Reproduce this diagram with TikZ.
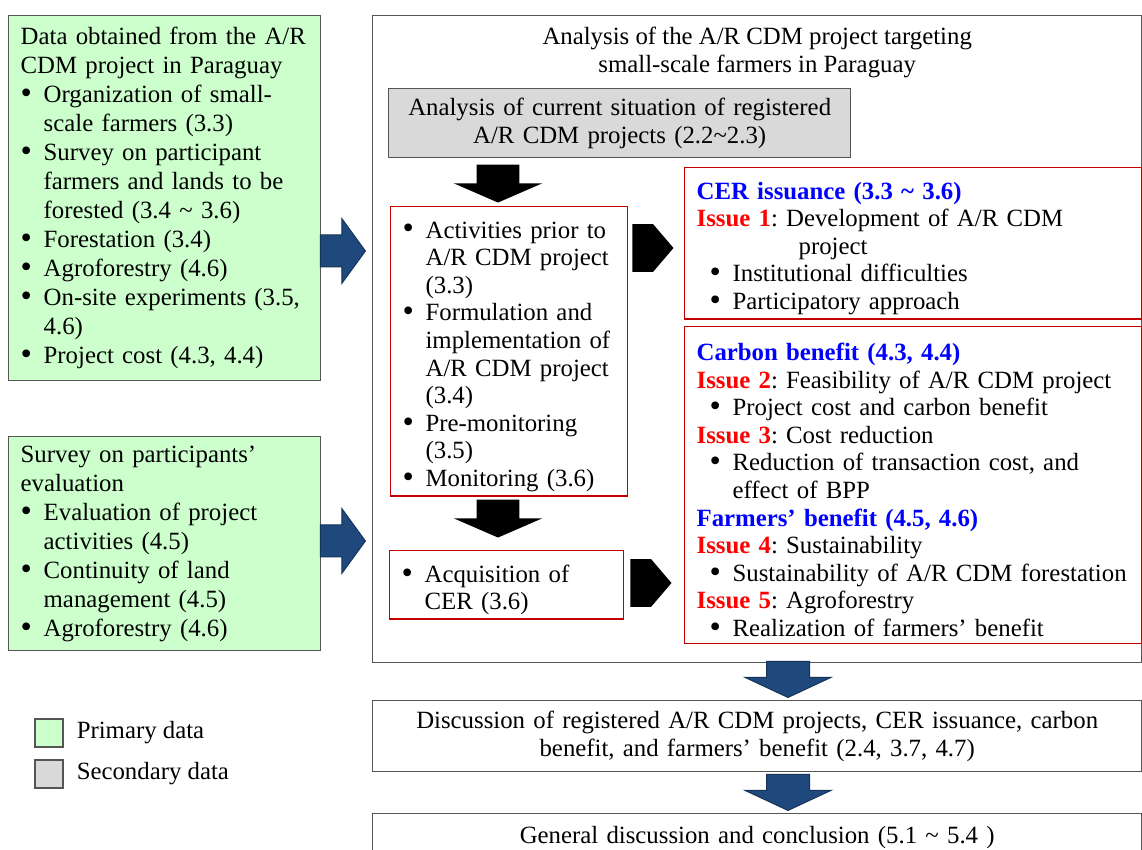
\documentclass[tikz,border=0pt]{standalone}
\usepackage{fontspec}
\setmainfont{Liberation Serif}
\usepackage{xcolor}
\usetikzlibrary{shapes,arrows,positioning,calc}

\definecolor{primgreen}{RGB}{204,255,204}
\definecolor{secgray}{RGB}{217,217,217}
\definecolor{framegray}{RGB}{85,85,85}
\definecolor{boxred}{RGB}{192,0,0}
\definecolor{headblue}{RGB}{0,0,255}
\definecolor{issuered}{RGB}{255,0,0}
\definecolor{arrblue}{RGB}{31,73,125}

% bullet line with hanging indent, optional left offset
\newcommand{\bitem}[2][0pt]{\par\noindent\hangindent=\dimexpr#1+11.5pt\relax\hangafter=1\hspace*{#1}\makebox[11.5pt][l]{\raisebox{-0.4pt}{\scalebox{1.3}{\textbullet}}}#2\par}
\newcommand{\issue}[1]{\par\noindent{\bfseries\color{issuered}Issue #1}}
\newcommand{\topic}[1]{\par\noindent{\bfseries\color{headblue}#1}}

\begin{document}
\begin{tikzpicture}[
    x=0.5pt, y=-0.5pt,
    every node/.style={font=\fontsize{12.4}{13.8}\selectfont\frenchspacing},
    loose/.style={font=\fontsize{12.4}{14.5}\selectfont\frenchspacing},
    panel/.style={rectangle, draw, anchor=north west, align=left, inner xsep=6pt, inner ysep=2pt},
    primary/.style={panel, loose, draw=framegray, fill=primgreen, line width=0.7pt},
    secondary/.style={panel, draw=framegray, fill=secgray, line width=0.7pt, align=center},
    frame/.style={rectangle, draw=framegray, anchor=north west, line width=0.7pt, align=center},
    redbox/.style={panel, draw=boxred, line width=0.6pt},
    keybox/.style={rectangle, draw=framegray, line width=0.7pt, minimum size=14pt, inner sep=0pt},
    blueright/.style={single arrow, anchor=tip, fill=arrblue, draw=arrblue!70!black, line width=0.5pt,
        inner xsep=0pt, inner ysep=7.75pt, minimum height=22.5pt, single arrow head extend=8.25pt, single arrow tip angle=108},
    bluedown/.style={single arrow, rotate=-90, anchor=tip, fill=arrblue, draw=arrblue!70!black, line width=0.5pt,
        inner xsep=0pt, inner ysep=10.5pt, minimum height=18pt, single arrow head extend=10.75pt, single arrow tip angle=130},
    blackdown/.style={single arrow, rotate=-90, anchor=tip, fill=black,
        inner xsep=0pt, inner ysep=10.5pt, minimum height=19pt, single arrow head extend=11.25pt, single arrow tip angle=133},
    blackright/.style={single arrow, anchor=tip, fill=black,
        inner xsep=0pt, inner ysep=11.75pt, minimum height=20.5pt, single arrow head extend=0pt, single arrow tip angle=99}
]
\useasboundingbox (0,0) rectangle (1142,850);

% primary data
\node[primary, text width=144pt, minimum height=182.5pt] (projdata) at (8,15) {Data obtained from the A/R\\CDM project in Paraguay
    \bitem{Organization of small-\newline scale farmers (3.3)}
    \bitem{Survey on participant\newline farmers and lands to be\newline forested (3.4 \textasciitilde\ 3.6)}
    \bitem{Forestation (3.4)}
    \bitem{Agroforestry (4.6)}
    \bitem{On-site experiments (3.5,\newline 4.6)}
    \bitem{Project cost (4.3, 4.4)}};
\node[primary, text width=144pt, minimum height=107pt] (evaldata) at (8,436) {Survey on participants'\\evaluation
    \bitem{Evaluation of project\newline activities (4.5)}
    \bitem{Continuity of land\newline management (4.5)}
    \bitem{Agroforestry (4.6)}};

% analysis frame
\node[frame, minimum width=384.5pt, minimum height=323.5pt] (analysis) at (372,15) {};
\node[below=6pt of analysis.north, inner sep=0pt, align=center] (aim) {Analysis of the A/R CDM project targeting\\small-scale farmers in Paraguay};
\node[secondary, text width=219pt, minimum height=34.5pt] (current) at (388,88) {Analysis of current situation of registered\\A/R CDM projects (2.2\textasciitilde2.3)};

\node[redbox, text width=106.5pt, minimum height=144pt] (steps) at (390,206) {%
    \bitem{Activities prior to\newline A/R CDM project\newline (3.3)}
    \bitem{Formulation and\newline implementation of\newline A/R CDM project\newline (3.4)}
    \bitem{Pre-monitoring\newline (3.5)}
    \bitem{Monitoring (3.6)}};
\node[redbox, text width=105pt, minimum height=34pt] (acquire) at (389,550) {%
    \bitem{Acquisition of\newline CER (3.6)}};

\node[redbox, text width=216.5pt, minimum height=75.5pt] (cer) at (684,167) {%
    \topic{CER issuance (3.3 \textasciitilde\ 3.6)}
    \issue{1}: Development of A/R CDM\newline\hspace*{51pt}project
    \bitem[6.5pt]{Institutional difficulties}
    \bitem[6.5pt]{Participatory approach}};
\node[redbox, text width=216.5pt, minimum height=158.5pt] (benefit) at (684,326) {%
    \topic{Carbon benefit (4.3, 4.4)}
    \issue{2}: Feasibility of A/R CDM project
    \bitem[6.5pt]{Project cost and carbon benefit}
    \issue{3}: Cost reduction
    \bitem[6.5pt]{Reduction of transaction cost, and\newline effect of BPP}
    \topic{Farmers' benefit (4.5, 4.6)}
    \issue{4}: Sustainability
    \bitem[6.5pt]{Sustainability of A/R CDM forestation}
    \issue{5}: Agroforestry
    \bitem[6.5pt]{Realization of farmers' benefit}};

% discussion
\node[frame, minimum width=384.5pt, minimum height=35.5pt, text width=372pt] (discuss) at (372,700) {Discussion of registered A/R CDM projects, CER issuance, carbon\\benefit, and farmers' benefit (2.4, 3.7, 4.7)};
\node[frame, minimum width=384.5pt, minimum height=24pt, text width=372pt] (general) at (372,813) {General discussion and conclusion (5.1 \textasciitilde\ 5.4 )};

% block arrows
\node[blueright] (inA) at (366,251) {};
\node[blueright] (inB) at (366,541) {};
\node[blackdown] (dnA) at (498,203) {};
\node[blackdown] (dnB) at (498,538) {};
\node[blackright] (toCER) at (674,248) {};
\node[blackright] (toBen) at (672,583) {};
\node[bluedown] (dnC) at (788,698) {};
\node[bluedown] (dnD) at (788,811) {};

% legend
\node[keybox, fill=primgreen] (keyA) at (49,733) {};
\node[right=3pt of keyA] (keyAtxt) {Primary data};
\node[keybox, fill=secgray] (keyB) at (49,774) {};
\node[right=3pt of keyB] (keyBtxt) {Secondary data};
\end{tikzpicture}
\end{document}
